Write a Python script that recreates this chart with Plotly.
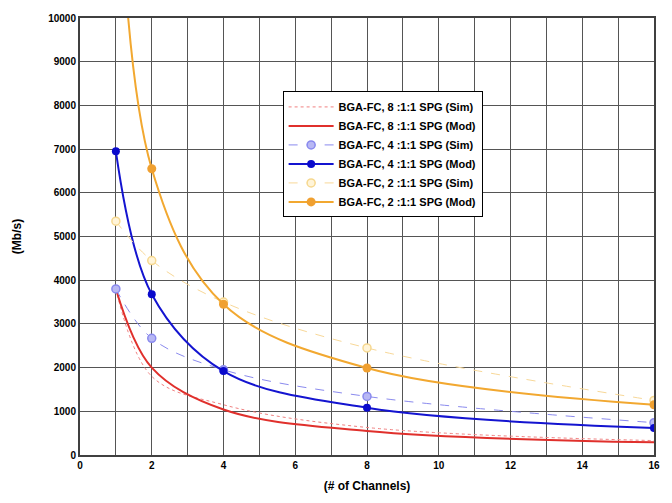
import plotly.graph_objects as go

channels = [1, 2, 4, 8, 16]
red_sim = [3800, 1800, 1150, 630, 330]
red_mod = [3800, 2000, 1040, 550, 290]
blue_sim = [3800, 2670, 1950, 1340, 740]
blue_mod = [6950, 3680, 1920, 1080, 620]
orange_sim = [5350, 4450, 3500, 2450, 1250]
orange_mod = [15500, 6550, 3450, 1990, 1150]

names = [
    "BGA-FC, 8 :1:1 SPG (Sim)",
    "BGA-FC, 8 :1:1 SPG (Mod)",
    "BGA-FC, 4 :1:1 SPG (Sim)",
    "BGA-FC, 4 :1:1 SPG (Mod)",
    "BGA-FC, 2 :1:1 SPG (Sim)",
    "BGA-FC, 2 :1:1 SPG (Mod)",
]

fig = go.Figure()
fig.add_trace(go.Scatter(x=channels, y=red_sim, name=names[0], mode="lines",
                         line=dict(color="#F08080", width=1, dash="dot", shape="spline")))
fig.add_trace(go.Scatter(x=channels, y=red_mod, name=names[1], mode="lines",
                         line=dict(color="#E0302C", width=2, shape="spline")))
fig.add_trace(go.Scatter(x=channels, y=blue_sim, name=names[2], mode="lines+markers",
                         line=dict(color="#8A8AEE", width=1, dash="dash", shape="spline"),
                         marker=dict(size=8, color="#B8B8F4", line=dict(color="#8A8AEE", width=1.5))))
fig.add_trace(go.Scatter(x=channels, y=blue_mod, name=names[3], mode="lines+markers",
                         line=dict(color="#1414D0", width=2, shape="spline"),
                         marker=dict(size=8, color="#0A0ACC")))
fig.add_trace(go.Scatter(x=channels, y=orange_sim, name=names[4], mode="lines+markers",
                         line=dict(color="#F8D898", width=1, dash="dash", shape="spline"),
                         marker=dict(size=8, color="#FFF4D8", line=dict(color="#F6D890", width=1.5))))
fig.add_trace(go.Scatter(x=channels, y=orange_mod, name=names[5], mode="lines+markers",
                         line=dict(color="#F2A830", width=2, shape="spline"),
                         marker=dict(size=9, color="#F0A030"), cliponaxis=True))

tickfont = dict(family="Liberation Sans, Arial, sans-serif", size=10, color="black", weight="bold")

fig.update_layout(
    width=672, height=503,
    margin=dict(l=80, r=17, t=13, b=47),
    paper_bgcolor="white", plot_bgcolor="white",
    font=dict(family="Liberation Sans, Arial, sans-serif", color="black"),
    showlegend=True,
    legend=dict(x=0.353, y=0.832, xanchor="left", yanchor="top",
                bgcolor="white", bordercolor="black", borderwidth=1,
                font=dict(size=11, weight="bold"), tracegroupgap=0,
                itemwidth=45),
    xaxis=dict(range=[0, 16], tickvals=[0, 2, 4, 6, 8, 10, 12, 14, 16],
               showgrid=True, gridcolor="#555555", gridwidth=1,
               minor=dict(dtick=1, showgrid=True, gridcolor="#555555", gridwidth=1),
               showline=True, linecolor="#404040", linewidth=2, mirror=True,
               zeroline=False, ticks="", tickfont=tickfont, ticklen=0,
               title=dict(text="(# of Channels)", font=dict(size=12, weight="bold"), standoff=12)),
    yaxis=dict(range=[0, 10000], dtick=1000, tickformat="d",
               showgrid=True, gridcolor="#555555", gridwidth=1,
               showline=True, linecolor="#404040", linewidth=2, mirror=True,
               zeroline=False, ticks="", tickfont=tickfont,
               title=dict(text="(Mb/s)", font=dict(size=12, weight="bold"), standoff=24)),
)

fig.write_html("out.html")
